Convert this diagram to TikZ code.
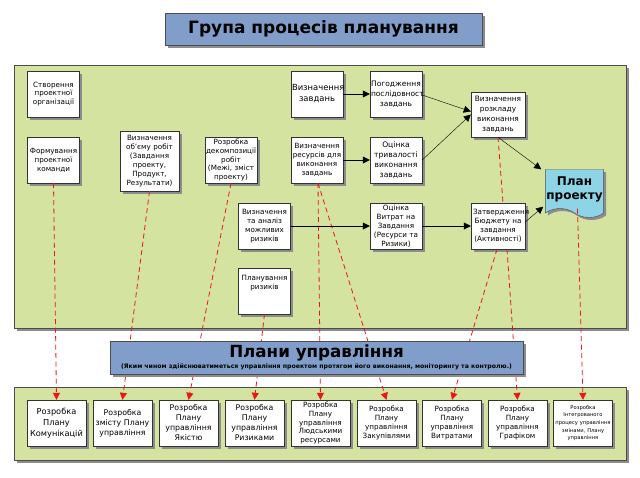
\documentclass[tikz,border=0pt]{standalone}
\usepackage{fontspec}
\setmainfont{DejaVu Sans}
\usetikzlibrary{arrows.meta,shadows,shapes.symbols}

\begin{document}
\begin{tikzpicture}[x=1pt,y=-1pt,
    boxshadow/.style={drop shadow={shadow xshift=2.5pt,shadow yshift=-2.5pt,fill=black!45,opacity=1}},
    procbox/.style={draw=black!80,fill=white,align=center,inner sep=1pt,
      minimum width=52pt,minimum height=46pt,text width=50pt,
      font=\fontsize{7.2}{8.9}\selectfont,boxshadow},
    planbox/.style={procbox,minimum width=59pt,text width=57pt,font=\fontsize{7.8}{10}\selectfont},
    panel/.style={draw=black!70,fill=panelgreen,boxshadow},
    banner/.style={draw=black!70,fill=bannerblue,boxshadow},
    flow/.style={black,-{Triangle[length=7pt,width=7pt]}},
    link/.style={linkred,thick,dash pattern=on 5pt off 3.5pt,-{Triangle[length=7pt,width=7pt]}}]
    % Define colors
    \definecolor{panelgreen}{RGB}{212,227,160}
    \definecolor{bannerblue}{RGB}{128,158,201}
    \definecolor{plancyan}{RGB}{140,212,230}
    \definecolor{linkred}{RGB}{232,24,24}

    \useasboundingbox (0,0) rectangle (640,477);

    % Title
    \node[banner,minimum width=317pt,minimum height=32pt,
      font=\bfseries\fontsize{17}{19}\selectfont] (title) at (323.5,29) {Група процесів планування};

    % Panels
    \draw[panel] (14,65) rectangle (626,328);
    \draw[panel] (14,387) rectangle (626,460);

    % Planning processes
    \node[procbox] (cre) at (53.5,94) {Створення\\проектної\\організації};
    \node[procbox] (form) at (53.5,160) {Формування\\проектної\\команди};
    \node[procbox,minimum width=59pt,minimum height=60pt,text width=57pt] (obs) at (149.5,161)
      {Визначення\\об'єму робіт\\(Завдання\\проекту,\\Продукт,\\Результати)};
    \node[procbox] (dek) at (231,160) {Розробка\\декомпозиції\\робіт\\(Межі, зміст\\проекту)};
    \node[procbox,font=\fontsize{8.4}{11}\selectfont] (vzd) at (317,94) {Визначення\\завдань};
    \node[procbox,font=\fontsize{7.5}{9.8}\selectfont] (pog) at (396,94) {Погодження\\послідовност\\завдань};
    \node[procbox] (res) at (317,160) {Визначення\\ресурсів для\\виконання\\завдань};
    \node[procbox,font=\fontsize{7.6}{10}\selectfont] (otr) at (396,160) {Оцінка\\тривалості\\виконання\\завдань};
    \node[procbox] (riz) at (264.5,226) {Визначення\\та аналіз\\можливих\\ризиків};
    \node[procbox] (plr) at (264.5,291) {Планування\\ризиків\\~\\~};
    \node[procbox] (otv) at (396,226) {Оцінка\\Витрат на\\Завдання\\(Ресурси та\\Ризики)};
    \node[procbox,minimum width=54pt,minimum height=45pt,font=\fontsize{7.4}{9.8}\selectfont] (rozk) at (498,114.5)
      {Визначення\\розкладу\\виконання\\завдань};
    \node[procbox,minimum width=54pt] (zatv) at (498,226)
      {Затвердження\\Бюджету на\\завдання\\(Активності)};
    \node[draw=black!70,fill=plancyan,shape=tape,tape bend top=none,tape bend bottom=out and in,
      tape bend height=9pt,minimum width=51pt,minimum height=48pt,inner sep=1pt,align=center,
      font=\bfseries\fontsize{12}{14}\selectfont,boxshadow] (plan) at (574.5,189) {План\\проекту};

    % Management plans
    \node[planbox,font=\fontsize{8.2}{11}\selectfont] (kom) at (56.5,423) {Розробка\\Плану\\Комунікацій};
    \node[planbox] (zmist) at (122.5,423) {Розробка\\змісту Плану\\управління};
    \node[planbox] (yak) at (188.5,423) {Розробка\\Плану\\управління\\Якістю};
    \node[planbox] (rizm) at (254.5,423) {Розробка\\Плану\\управління\\Ризиками};
    \node[planbox,font=\fontsize{7.2}{8.6}\selectfont] (lyud) at (320.5,423) {Розробка\\Плану\\управління\\Людськими\\ресурсами};
    \node[planbox,font=\fontsize{7.2}{9.2}\selectfont] (zak) at (386.5,423) {Розробка\\Плану\\управління\\Закупівлями};
    \node[planbox,font=\fontsize{7.2}{9.2}\selectfont] (vytr) at (452,423) {Розробка\\Плану\\управління\\Витратами};
    \node[planbox,font=\fontsize{7.2}{9.2}\selectfont] (graf) at (517.5,423) {Розробка\\Плану\\управління\\Графіком};
    \node[planbox,font=\fontsize{5.2}{7.6}\selectfont] (integr) at (583,423)
      {Розробка\\Інтегрованого\\процесу управління\\змінами, Плану\\управління};

    % Dashed links
    \draw[link] (form.south) -- (kom.north);
    \draw[link] (obs.south) -- (zmist.north);
    \draw[link] (dek.south) -- (yak.north);
    \draw[link] (plr.south) -- (rizm.north);
    \draw[link] ([xshift=1pt]res.south) -- (lyud.north);
    \draw[link] ([xshift=1pt]res.south) -- (zak.north);
    \draw[link] ([xshift=-1pt]zatv.south) -- (vytr.north);
    \draw[link] ([xshift=9pt]zatv.south) -- (graf.north);
    \draw[link] ([xshift=3pt]plan.south) -- (integr.north);
    \draw[link,-] (rozk.south) -- ([xshift=5pt]zatv.north);

    % Management plans banner
    \node[banner,minimum width=413pt,minimum height=33pt,align=center,inner sep=0pt] (plans) at (316.5,357.5)
      {{\bfseries\fontsize{16.7}{17}\selectfont Плани управління}\\[-1pt]
       {\bfseries\fontsize{6.2}{7}\selectfont (Яким чином здійснюватиметься управління проектом протягом його виконання, моніторингу та контролю.)}};

    % Flow arrows
    \draw[flow] (vzd.east) -- (pog.west);
    \draw[flow] (res.east) -- (otr.west);
    \draw[flow] ([yshift=-1pt]pog.east) -- ([yshift=3pt]rozk.west);
    \draw[flow] (otr.east) -- ([yshift=0pt]rozk.west);
    \draw[flow] (riz.east) -- (otv.west);
    \draw[flow] (otv.east) -- (zatv.west);
    \draw[flow] (rozk.south) -- ([xshift=-4pt]plan.north west);
    \draw[flow] ([yshift=4pt]zatv.east) -- ([xshift=-2pt,yshift=2pt]plan.south west);
\end{tikzpicture}
\end{document}
